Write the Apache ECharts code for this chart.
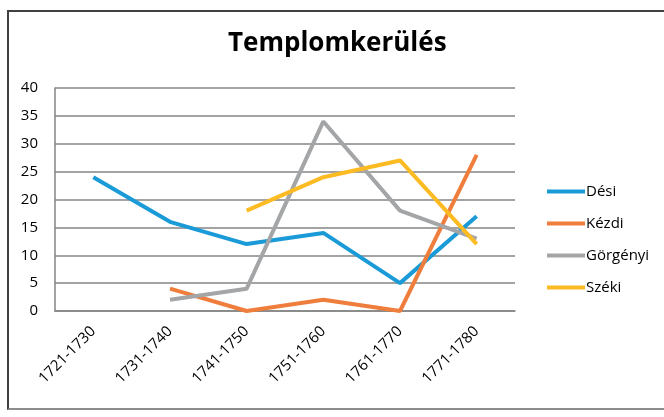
<!DOCTYPE html>
<html>
<head>
<meta charset="utf-8">
<script src="https://cdn.jsdelivr.net/npm/echarts@6/dist/echarts.min.js"></script>
<style>
  html, body { margin: 0; padding: 0; background: #fff; }
  #main { width: 664px; height: 417px; }
  #frame {
    position: absolute; left: 7px; top: 10px; width: 700px; height: 396px;
    border-top: 2px solid #404040; border-left: 2px solid #404040; border-bottom: 2px solid #8c8c8c;
    pointer-events: none;
  }
</style>
</head>
<body>
<div id="main"></div>
<div id="frame"></div>
<script>
var categories = ['1721-1730', '1731-1740', '1741-1750', '1751-1760', '1761-1770', '1771-1780'];
var desi = [24, 16, 12, 14, 5, 17];
var kezdi = [null, 4, 0, 2, 0, 28];
var gorgenyi = [null, 2, 4, 34, 18, 13];
var szeki = [null, null, 18, 24, 27, 12];

var chartDom = document.getElementById('main');
var myChart = echarts.init(chartDom);
var option;

function line(name, data, color) {
  return {
    name: name,
    type: 'line',
    data: data,
    showSymbol: false,
    smooth: false,
    lineStyle: { width: 4, color: color },
    itemStyle: { color: color }
  };
}

option = {
  animation: false,
  title: {
    text: 'Templomkerülés',
    left: 223,
    top: 26,
    textStyle: { fontFamily: 'Open Sans', fontSize: 26, fontWeight: 'bold', color: '#000' }
  },
  legend: {
    orient: 'vertical',
    left: 542,
    top: 179,
    itemWidth: 38,
    itemHeight: 4,
    itemGap: 17,
    icon: 'rect',
    textStyle: { fontFamily: 'Open Sans', fontSize: 15, color: '#000', padding: [0, 0, 0, -4] },
    data: ['Dési', 'Kézdi', 'Görgényi', 'Széki']
  },
  grid: { left: 55, right: 149, top: 88, bottom: 106 },
  xAxis: {
    type: 'category',
    data: categories,
    boundaryGap: true,
    axisLine: { lineStyle: { color: '#858585', width: 1.5 } },
    axisTick: { show: false },
    axisLabel: { rotate: 45, color: '#000', fontFamily: 'Open Sans', fontSize: 15, margin: 18 }
  },
  yAxis: {
    type: 'value',
    min: 0,
    max: 40,
    interval: 5,
    axisLine: { show: true, lineStyle: { color: '#858585', width: 1.5 } },
    axisTick: { show: false },
    axisLabel: { color: '#000', fontFamily: 'Open Sans', fontSize: 15, margin: 17 },
    splitLine: { lineStyle: { color: '#858585', width: 1.5 } }
  },
  series: [
    line('Dési', desi, '#1a9bd7'),
    line('Kézdi', kezdi, '#ef7d3c'),
    line('Görgényi', gorgenyi, '#a3a5a7'),
    line('Széki', szeki, '#fdbb23')
  ]
};

option && myChart.setOption(option);
</script>
</body>
</html>
